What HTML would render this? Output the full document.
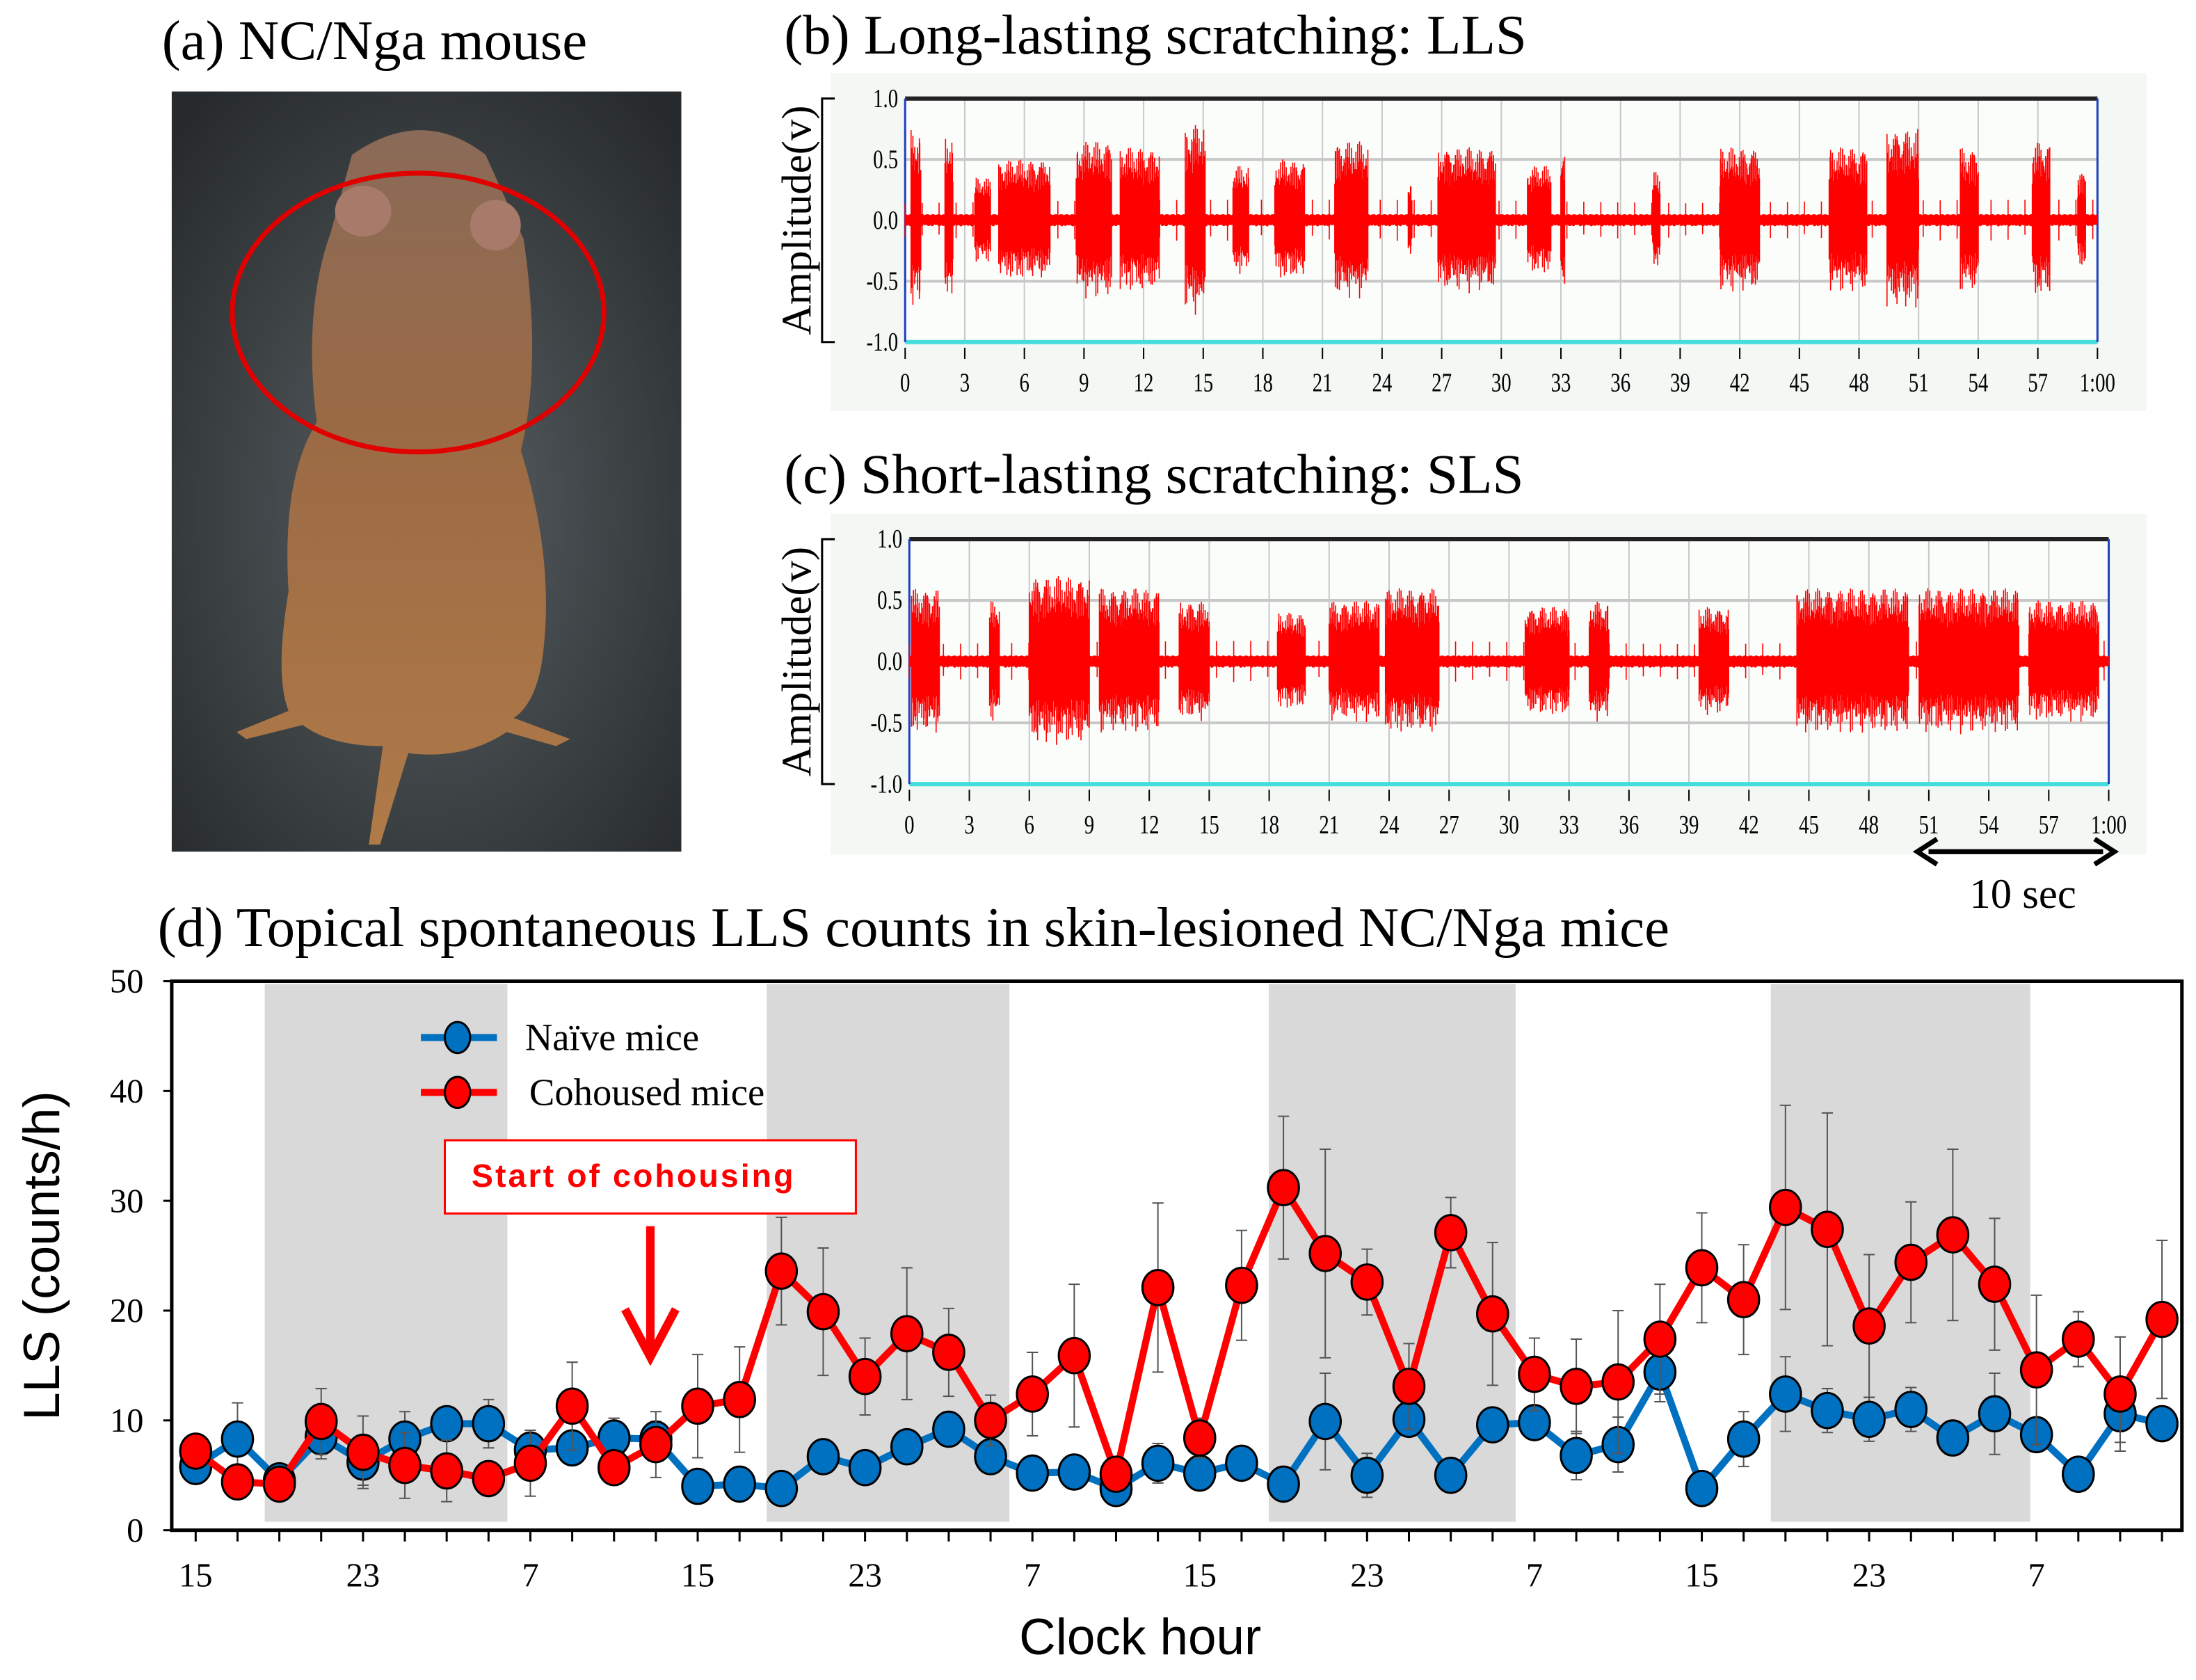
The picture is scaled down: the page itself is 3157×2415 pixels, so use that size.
<!DOCTYPE html>
<html><head><meta charset="utf-8"><style>
html,body{margin:0;padding:0;background:#fff}
svg{display:block}
.serif{font-family:"Liberation Serif",serif}
.sans{font-family:"Liberation Sans",sans-serif}
</style></head><body>
<svg id="fig" width="3157" height="2415" viewBox="0 0 1560 1193.4" preserveAspectRatio="none" xmlns="http://www.w3.org/2000/svg">
<defs>
<radialGradient id="bg" cx="0.5" cy="0.55" r="0.7"><stop offset="0" stop-color="#5a6064"/><stop offset="1" stop-color="#262a2c"/></radialGradient>
<linearGradient id="fur" x1="0" y1="0" x2="0" y2="1"><stop offset="0" stop-color="#8a6a58"/><stop offset="0.4" stop-color="#9a6a45"/><stop offset="1" stop-color="#b07a48"/></linearGradient>
</defs>
<!-- panel a -->
<text class="serif" x="115" y="42" font-size="40">(a) NC/Nga mouse</text>
<g>
<rect x="122" y="65" width="362" height="540" fill="url(#bg)"/>
<path d="M250 110 Q300 75 345 110 L372 170 Q385 260 370 320 Q395 400 385 470 Q380 500 365 510 L405 525 L395 530 L360 520 Q330 540 290 535 L270 600 L262 600 L272 530 Q235 530 215 515 L175 525 L168 520 L205 505 Q195 480 205 420 Q200 340 225 300 Q215 220 235 165 Z" fill="url(#fur)"/>
<ellipse cx="258" cy="150" rx="20" ry="18" fill="#a87a6a"/><ellipse cx="352" cy="160" rx="18" ry="18" fill="#a87a6a"/>
</g>
<ellipse cx="297" cy="222" rx="132" ry="99" fill="none" stroke="#e00000" stroke-width="3.5"/>

<!-- panel b / c -->
<text class="serif" x="557" y="38" font-size="40">(b) Long-lasting scratching: LLS</text>
<text class="serif" x="557" y="350" font-size="40">(c) Short-lasting scratching: SLS</text>
<g id="wb"></g>
<g id="wc"></g>
<g>
<line x1="1370" y1="605" x2="1494" y2="605" stroke="#000" stroke-width="3.5"/>
<path d="M1376 596 L1362 605 L1376 614" fill="none" stroke="#000" stroke-width="3.5"/>
<path d="M1488 596 L1502 605 L1488 614" fill="none" stroke="#000" stroke-width="3.5"/>
<text class="serif" x="1437" y="645" font-size="30" text-anchor="middle">10 sec</text>
</g>

<!-- panel d -->
<text class="serif" x="112" y="672" font-size="40">(d) Topical spontaneous LLS counts in  skin-lesioned NC/Nga mice</text>
<g id="chart"></g>
</svg>
<script>
const NS='http://www.w3.org/2000/svg';
function mk(parent,tag,attrs,text){const e=document.createElementNS(NS,tag);for(const k in attrs)e.setAttribute(k,attrs[k]);if(text!==undefined)e.textContent=text;parent.appendChild(e);return e;}

// ---------- panel d data ----------
const hourLabels=['15','23','7','15','23','7','15','23','7','15','23','7'];
const yTicks=[0,10,20,30,40,50];
const naive=[5.8,8.3,4.5,8.5,6.2,8.3,9.7,9.7,7.3,7.5,8.4,8.3,4.0,4.2,3.8,6.7,5.7,7.6,9.2,6.7,5.2,5.3,3.8,6.1,5.2,6.1,4.2,9.9,5.0,10.1,5.0,9.6,9.8,6.8,7.8,14.4,3.8,8.3,12.4,10.9,10.1,11.0,8.4,10.6,8.7,5.1,10.6,9.7];
const naiveErr=[1.2,3.3,0.8,2.0,2.1,2.5,1.5,2.2,1.0,1.5,1.8,1.6,0.5,0.6,0.5,1.3,1.1,1.2,1.3,1.2,0.6,1.2,0.7,1.8,1.1,1.5,0.8,4.4,2.0,1.5,1.2,1.0,1.5,2.2,2.5,2.7,0.5,2.5,3.4,2.0,2.0,2.0,1.0,3.7,1.5,1.5,2.6,1.5];
const coh=[7.2,4.4,4.2,9.9,7.1,5.9,5.4,4.7,6.1,11.3,5.7,7.8,11.3,11.9,23.6,19.9,14.0,17.9,16.2,10.0,12.4,15.9,5.1,22.1,8.4,22.3,31.2,25.2,22.6,13.1,27.1,19.7,14.2,13.1,13.5,17.4,23.9,21.0,29.4,27.4,18.6,24.4,26.9,22.4,14.6,17.4,12.4,19.2];
const cohErr=[1.2,1.0,0.8,3.0,3.3,3.0,2.8,1.5,3.0,4.0,1.5,3.0,4.7,4.8,4.9,5.8,3.5,6.0,4.0,2.3,3.8,6.5,1.5,7.7,1.8,5.0,6.5,9.5,3.0,3.9,3.2,6.5,3.3,4.3,6.5,5.0,5.0,5.0,9.3,10.6,6.5,5.5,7.8,6.0,6.8,2.5,5.2,7.2];
const darkStart=[2,14,26,38];
const darkEnd=[7.8,19.8,31.9,44.2];

const X0=139,DX=29.72,YB=1087,YT=697,YMAX=50;
const xs=i=>X0+i*DX;
const ys=v=>YB-(v/YMAX)*(YB-YT);
const ch=document.getElementById('chart');
for(let k=0;k<darkStart.length;k++){
  const r=mk(ch,'rect',{x:xs(darkStart[k]-0.35),y:YT+2,width:(darkEnd[k]-darkStart[k])*DX,height:YB-YT-8,fill:'#d9d9d9'});
  
  
}
const fr=mk(ch,'rect',{x:122,y:YT,width:1428,height:YB-YT,fill:'none',stroke:'#000','stroke-width':2.5});


yTicks.forEach(t=>{
  mk(ch,'line',{x1:116,x2:122,y1:ys(t),y2:ys(t),stroke:'#000','stroke-width':1.5});
  const tl=mk(ch,'text',{x:102,y:ys(t)+8,'font-size':24,'text-anchor':'end',class:'serif'},String(t));
  
  
});
for(let i=0;i<naive.length;i++){
  mk(ch,'line',{x1:xs(i),x2:xs(i),y1:YB,y2:YB+8,stroke:'#000','stroke-width':1.5});
}
hourLabels.forEach((h,k)=>{
  const tl=mk(ch,'text',{x:xs(k*4),y:1127,'font-size':24,'text-anchor':'middle',class:'serif'},h);
  
  
});
const yl=mk(ch,'text',{x:0,y:0,'font-size':36,'text-anchor':'middle',class:'sans',transform:'translate(42,892) rotate(-90)'},'LLS (counts/h)');


const xl=mk(ch,'text',{x:810,y:1175,'font-size':36,'text-anchor':'middle',class:'sans'},'Clock hour');



function series(vals,errs,color,name){
  const g=mk(ch,'g',{});
  
  
  vals.forEach((v,i)=>{
    const x=xs(i);
    mk(g,'line',{x1:x,x2:x,y1:ys(v+errs[i]),y2:ys(Math.max(0,v-errs[i])),stroke:'#555','stroke-width':1});
    mk(g,'line',{x1:x-4,x2:x+4,y1:ys(v+errs[i]),y2:ys(v+errs[i]),stroke:'#555','stroke-width':1});
    mk(g,'line',{x1:x-4,x2:x+4,y1:ys(Math.max(0,v-errs[i])),y2:ys(Math.max(0,v-errs[i])),stroke:'#555','stroke-width':1});
  });
  mk(g,'polyline',{points:vals.map((v,i)=>xs(i)+','+ys(v)).join(' '),fill:'none',stroke:color,'stroke-width':5,'stroke-linejoin':'round'});
  vals.forEach((v,i)=>{
    const c=mk(g,'ellipse',{cx:xs(i),cy:ys(v),rx:11,ry:12.5,fill:color,stroke:'#000','stroke-width':1.5});
    
    
  });
}
series(naive,naiveErr,'#0070c0','series-naive');
series(coh,cohErr,'#ff0000','series-cohoused');

[['Naïve mice','#0070c0',737,373],['Cohoused mice','#ff0000',776,376]].forEach(([t,c,y,tx])=>{
  const g=mk(ch,'g',{});
  
  
  mk(g,'line',{x1:299,x2:353,y1:y,y2:y,stroke:c,'stroke-width':5});
  mk(g,'ellipse',{cx:325,cy:y,rx:9,ry:11,fill:c,stroke:'#000','stroke-width':1.5});
  mk(g,'text',{x:tx,y:y+9,'font-size':27,class:'serif'},t);
});
const an=mk(ch,'g',{});


mk(an,'rect',{x:316,y:810,width:292,height:52,fill:'#fff',stroke:'#ff0000','stroke-width':1.5});
mk(an,'text',{x:335,y:843,'font-size':23,'font-weight':'bold',fill:'#ff0000',class:'sans','letter-spacing':'1.5','xml:space':'preserve'},'Start  of  cohousing');
mk(an,'line',{x1:462,x2:462,y1:871,y2:960,stroke:'#ff0000','stroke-width':6});
mk(an,'path',{d:'M444 930 L462 964 L480 930',fill:'none',stroke:'#ff0000','stroke-width':6});

// ---------- waveform panels ----------
const llsBursts=[[0.3,0.8,0.75],[2,2.4,0.7],[3.5,4.3,0.35],[4.7,7.3,0.5],[8.6,10.4,0.65],[10.8,12.8,0.6],[14.1,15.1,0.8],[16.5,17.3,0.45],[18.6,20.1,0.5],[21.6,23.3,0.65],[25.3,25.5,0.35],[26.8,29.7,0.6],[31.3,32.5,0.45],[33.0,33.2,0.65],[37.6,38.0,0.4],[41.0,43.0,0.6],[46.5,48.4,0.6],[49.4,51.0,0.75],[53.1,54.0,0.6],[56.7,57.6,0.65],[59,59.4,0.4]];
const slsBursts=[[0.1,1.5,0.6],[4,4.5,0.5],[6,9,0.7],[9.5,12.5,0.6],[13.5,15,0.5],[18.4,19.8,0.4],[21,23.5,0.5],[23.8,26.5,0.6],[30.8,33,0.45],[34,35,0.5],[39.5,41,0.45],[44.4,50,0.6],[50.5,55.5,0.6],[56,59.5,0.5]];
const secTicks=['0','3','6','9','12','15','18','21','24','27','30','33','36','39','42','45','48','51','54','57','1:00'];
const ampTicks=[1.0,0.5,0.0,-0.5,-1.0];

function wave(gid,name,bx,by,bw,bh,px0,px1,py0,py1,bursts){
  const g=document.getElementById(gid);
  
  
  mk(g,'rect',{x:bx,y:by,width:bw,height:bh,fill:'#f4f8f4'});
  const sx=s=>px0+s/60*(px1-px0);
  const sy=a=>(py0+py1)/2-a*(py1-py0)/2;
  mk(g,'rect',{x:px0,y:py0,width:px1-px0,height:py1-py0,fill:'#fbfdfb'});
  secTicks.forEach((t,k)=>{
    const x=sx(k*3);
    mk(g,'line',{x1:x,x2:x,y1:py0,y2:py1,stroke:'#c8c8c8','stroke-width':1});
    mk(g,'line',{x1:x,x2:x,y1:py1+4,y2:py1+12,stroke:'#000','stroke-width':1});
    mk(g,'text',{x:x,y:py1+35,'font-size':19,'text-anchor':'middle',class:'serif',transform:`translate(${x},${py1+35}) scale(0.75,1) translate(${-x},${-(py1+35)})`},t);
  });
  ampTicks.forEach(a=>{
    mk(g,'line',{x1:px0,x2:px1,y1:sy(a),y2:sy(a),stroke:'#c8c8c8','stroke-width':2});
    mk(g,'text',{x:px0-5,y:sy(a)+6,'font-size':19,'text-anchor':'end',class:'serif',transform:`translate(${px0-5},${sy(a)+6}) scale(0.75,1) translate(${-(px0-5)},${-(sy(a)+6)})`},a.toFixed(1));
  });
  mk(g,'line',{x1:px0,x2:px1,y1:py0,y2:py0,stroke:'#222','stroke-width':3});
  mk(g,'line',{x1:px0,x2:px1,y1:py1,y2:py1,stroke:'#4dd','stroke-width':3});
  mk(g,'line',{x1:px0,x2:px0,y1:py0,y2:py1,stroke:'#2040c0','stroke-width':1.5});
  mk(g,'line',{x1:px1,x2:px1,y1:py0,y2:py1,stroke:'#2040c0','stroke-width':1.5});
  mk(g,'path',{d:`M${bx+3} ${sy(1)} L${bx-6} ${sy(1)} L${bx-6} ${sy(-1)} L${bx+3} ${sy(-1)}`,fill:'none',stroke:'#000','stroke-width':1.5});
  const cy=(py0+py1)/2;
  mk(g,'text',{x:0,y:0,'font-size':30,'text-anchor':'middle',class:'serif',transform:`translate(${bx-14},${cy}) rotate(-90)`},'Amplitude(v)');
  let d='';
  const n=2600;
  for(let i=0;i<n;i++){
    const s=i/n*60;
    let a=0.05*(0.4+0.6*Math.abs(Math.sin(i*1.7)))+(i%37===0?0.12:0);
    bursts.forEach(b=>{if(s>=b[0]&&s<=b[1]){a=b[2]*(0.45+0.55*Math.abs(Math.sin(i*2.3)*Math.cos(i*0.71)));}});
    const x=sx(s).toFixed(1);
    d+=`M${x} ${sy(a).toFixed(1)}L${x} ${sy(-a*(0.7+0.3*Math.abs(Math.cos(i*1.3)))).toFixed(1)}`;
  }
  mk(g,'path',{d:d,stroke:'#f00','stroke-width':0.8,fill:'none'});
  mk(g,'line',{x1:px0,x2:px1,y1:sy(0),y2:sy(0),stroke:'#f00','stroke-width':3});
}
wave('wb','lls-waveform-panel',590,52,935,240,643,1490,70,243,llsBursts);
wave('wc','sls-waveform-panel',590,365,935,242,646,1498,383,557,slsBursts);
</script>
</body></html>
